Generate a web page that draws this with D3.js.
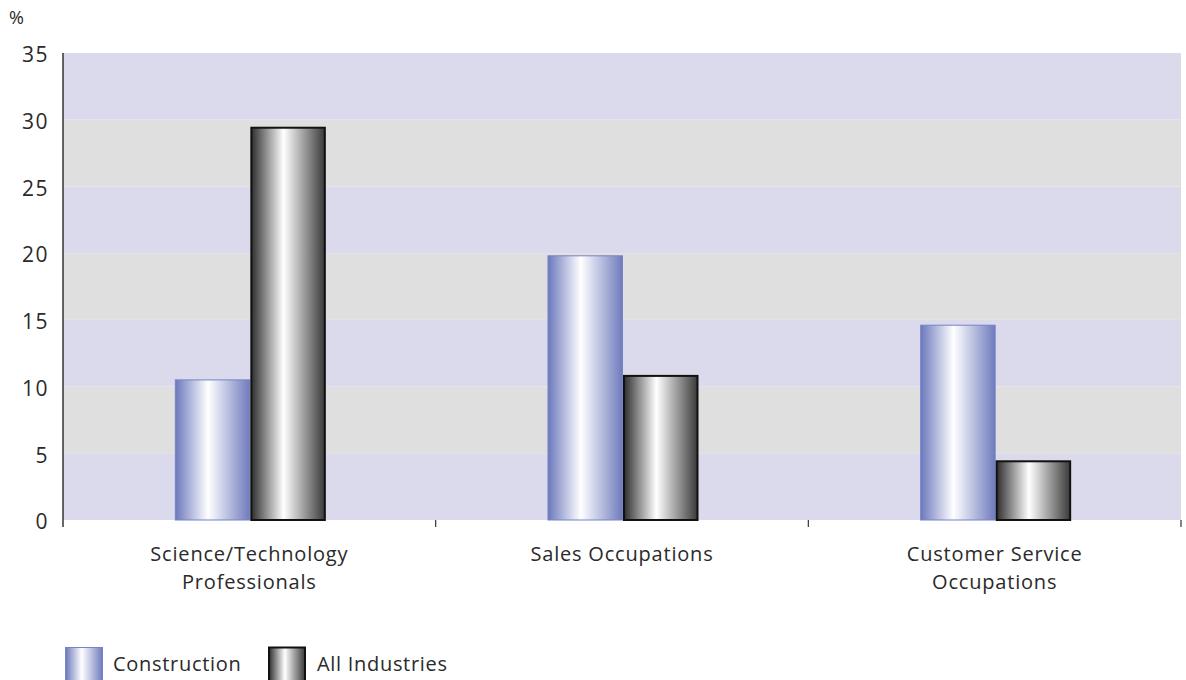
<!DOCTYPE html>
<html>
<head>
<meta charset="utf-8">
<script src="https://cdn.jsdelivr.net/npm/d3@7"></script>
<style>
  html, body { margin: 0; padding: 0; background: #fff; }
  svg { display: block; }
  text { font-family: "Open Sans", "Noto Sans", sans-serif; fill: #2a2a2a; }
</style>
</head>
<body>
<svg id="chart" width="1186" height="680"></svg>
<script>
// Occupation categories (two-line labels)
const categories = ["Science/Technology Professionals", "Sales Occupations", "Customer Service Occupations"];
const categoryLines = [["Science/Technology", "Professionals"], ["Sales Occupations"], ["Customer Service", "Occupations"]];
const seriesNames = ["Construction", "All Industries"];
const construction = [10.5, 19.8, 14.6];
const allIndustries = [29.4, 10.8, 4.4];
const yTicks = [0, 5, 10, 15, 20, 25, 30, 35];

const svg = d3.select("#chart");
const margin = { top: 53, right: 5, bottom: 160, left: 63 };
const width = 1186 - margin.left - margin.right;
const height = 680 - margin.top - margin.bottom;

const defs = svg.append("defs");
function cylinder(id, edgeL, edgeR, mid) {
  const g = defs.append("linearGradient").attr("id", id)
    .attr("x1", "0%").attr("x2", "100%").attr("y1", "0%").attr("y2", "0%");
  g.append("stop").attr("offset", "0%").attr("stop-color", edgeL);
  g.append("stop").attr("offset", "44%").attr("stop-color", mid);
  g.append("stop").attr("offset", "100%").attr("stop-color", edgeR);
}
cylinder("gradConstruction", "#6c78bc", "#6f7bbd", "#ffffff");
cylinder("gradAll", "#2e2e2e", "#3a3a3a", "#ffffff");

const fills = ["url(#gradConstruction)", "url(#gradAll)"];
const strokes = ["#7584c4", "#111111"];
const strokeWidths = [1, 2];

const g = svg.append("g").attr("transform", `translate(${margin.left},${margin.top})`);

const groupWidth = 151;
const x0 = d3.scaleBand().domain(categories).range([0, width]).paddingInner(0).paddingOuter(0);
const x1 = d3.scaleBand().domain(seriesNames).range([0, groupWidth]);
const y = d3.scaleLinear().domain([0, 35]).range([height, 0]);

// Alternating background bands
const bands = d3.range(0, 35, 5);
g.selectAll("rect.band").data(bands).join("rect")
  .attr("class", "band")
  .attr("x", 0).attr("width", width)
  .attr("y", d => y(d + 5)).attr("height", d => y(d) - y(d + 5))
  .attr("fill", (d, i) => i % 2 === 0 ? "#dbdaec" : "#dfdfdf");

// Bars
const data = categories.map((c, i) => ({ cat: c, values: [construction[i], allIndustries[i]] }));
const groups = g.selectAll("g.grp").data(data).join("g")
  .attr("class", "grp")
  .attr("transform", d => `translate(${x0(d.cat) + x0.bandwidth() / 2 - groupWidth / 2 + 1},0)`);
groups.selectAll("rect").data(d => d.values.map((v, i) => ({ v, i }))).join("rect")
  .attr("x", d => x1(seriesNames[d.i]) + (d.i === 0 ? 0.5 : 1))
  .attr("width", d => x1.bandwidth() - (d.i === 0 ? 1 : 2))
  .attr("y", d => y(d.v))
  .attr("height", d => y(0) - y(d.v))
  .attr("fill", d => fills[d.i])
  .attr("stroke", d => strokes[d.i])
  .attr("stroke-width", d => strokeWidths[d.i]);

// Y axis
const yAxis = g.append("g").call(d3.axisLeft(y).tickValues(yTicks).tickSize(0).tickPadding(14));
yAxis.select(".domain").remove();
yAxis.selectAll("text").attr("font-size", 21).attr("fill", "#2a2a2a").attr("dy", "0.42em")
  .attr("letter-spacing", 1.5)
  .style("font-family", "'Open Sans', 'Noto Sans', sans-serif");
g.append("line").attr("x1", 0).attr("x2", 0).attr("y1", 0).attr("y2", height + 7)
  .attr("stroke", "#333").attr("stroke-width", 1.5);

// X ticks at category boundaries
const bounds = categories.map(c => x0(c) + x0.bandwidth());
g.selectAll("line.xt").data(bounds).join("line")
  .attr("class", "xt")
  .attr("x1", d => d).attr("x2", d => d)
  .attr("y1", height).attr("y2", height + 7)
  .attr("stroke", "#333").attr("stroke-width", 1.2);

// Category labels
const lab = g.selectAll("text.cat").data(categories).join("text")
  .attr("class", "cat")
  .attr("text-anchor", "middle")
  .attr("font-size", 20)
  .attr("letter-spacing", 0.8)
  .attr("transform", d => `translate(${x0(d) + x0.bandwidth() / 2},${height + 41})`);
lab.selectAll("tspan").data((d, i) => categoryLines[i]).join("tspan")
  .attr("x", 0).attr("dy", (d, i) => i === 0 ? 0 : 28)
  .text(d => d);

// Unit label
svg.append("text").attr("x", 9).attr("y", 24).attr("font-size", 18).text("%");

// Legend
const legendX = [65, 268];
const leg = svg.selectAll("g.leg").data(seriesNames).join("g")
  .attr("class", "leg")
  .attr("transform", (d, i) => `translate(${legendX[i]},647)`);
leg.append("rect").attr("width", (d, i) => i === 0 ? 37 : 36).attr("height", 36)
  .attr("x", (d, i) => i === 0 ? 0.5 : 1).attr("y", 0.5)
  .attr("fill", (d, i) => fills[i])
  .attr("stroke", (d, i) => strokes[i])
  .attr("stroke-width", (d, i) => strokeWidths[i]);
leg.append("text").attr("x", (d, i) => i === 0 ? 48 : 49).attr("y", 24)
  .attr("font-size", 20).attr("letter-spacing", 0.7).text(d => d);
</script>
</body>
</html>
